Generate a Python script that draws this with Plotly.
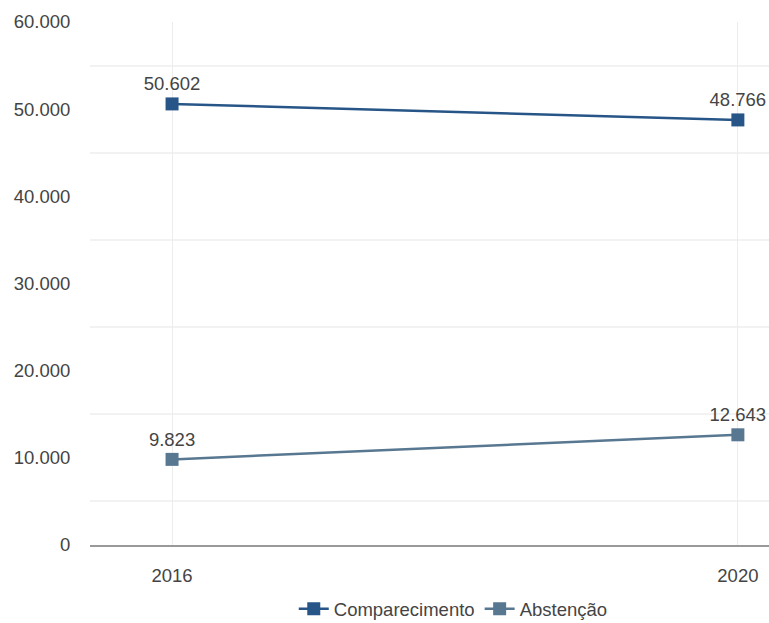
import plotly.graph_objects as go

years = [2016, 2020]
comparecimento = [50602, 48766]
abstencao = [9823, 12643]
y_ticks = [0, 10000, 20000, 30000, 40000, 50000, 60000]
y_grid = [5000, 15000, 25000, 35000, 45000, 55000]

FONT = "Liberation Sans, Arial, sans-serif"
FS = 18.5

fig = go.Figure()
fig.add_trace(go.Scatter(
    x=years, y=comparecimento, name="Comparecimento",
    mode="lines+markers+text",
    line=dict(color="#275587", width=2.5),
    marker=dict(symbol="square", size=13, color="#275587"),
    text=comparecimento, texttemplate="%{y:,d}", textposition="top center",
    textfont=dict(size=FS, color="#444", family=FONT),
    cliponaxis=False,
))
fig.add_trace(go.Scatter(
    x=years, y=abstencao, name="Abstenção",
    mode="lines+markers+text",
    line=dict(color="#587791", width=2.5),
    marker=dict(symbol="square", size=13, color="#587791"),
    text=abstencao, texttemplate="%{y:,d}", textposition="top center",
    textfont=dict(size=FS, color="#444", family=FONT),
    cliponaxis=False,
))

fig.update_layout(
    width=769, height=623,
    margin=dict(l=90, r=0, t=22, b=78, autoexpand=False),
    paper_bgcolor="white", plot_bgcolor="white",
    separators=",.",
    font=dict(family=FONT, size=FS, color="#444"),
    showlegend=True,
    legend=dict(orientation="h", x=0.535, xanchor="center",
                yref="container", y=0.022, yanchor="middle",
                font=dict(size=FS, color="#444"), itemwidth=30),
    xaxis=dict(
        range=[2015.42, 2020.22], tickvals=years, ticktext=[str(y) for y in years],
        showgrid=True, gridcolor="#ececec", gridwidth=1,
        showline=True, linecolor="#999", linewidth=1.5,
        ticks="outside", ticklen=13, tickcolor="rgba(0,0,0,0)",
        tickfont=dict(size=FS, color="#444"), zeroline=False,
    ),
    yaxis=dict(
        range=[0, 60000], tickvals=y_ticks, tickformat=",d",
        showgrid=False, zeroline=False, showline=False,
        ticks="outside", ticklen=15, tickcolor="rgba(0,0,0,0)",
        tickfont=dict(size=FS, color="#444"),
        minor=dict(tickvals=y_grid, showgrid=True, gridcolor="#f2f2f2", gridwidth=1.5, ticks=""),
    ),
)

fig.write_html("out.html")
